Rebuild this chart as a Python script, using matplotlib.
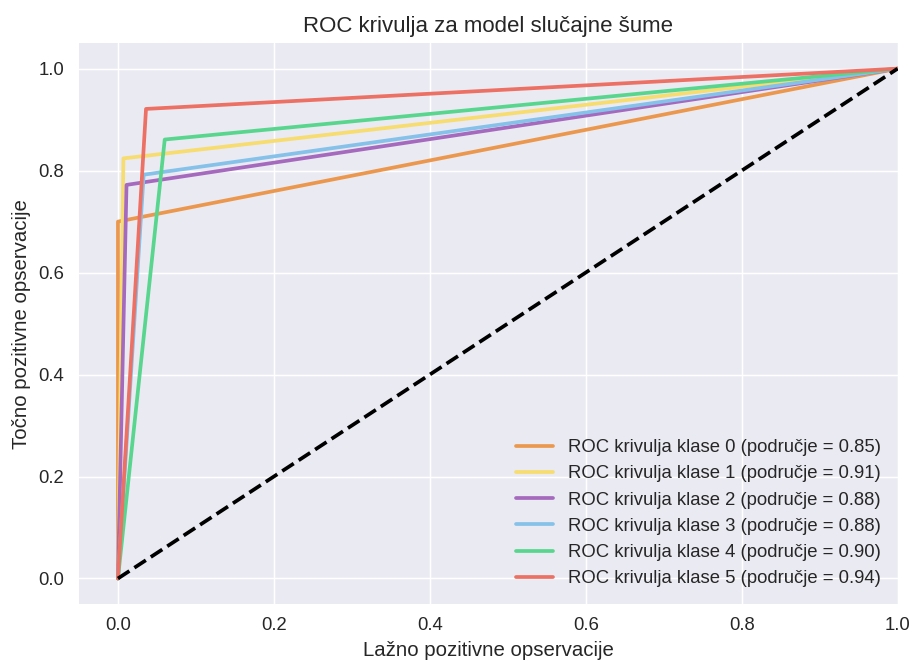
import matplotlib
matplotlib.use("Agg")
import matplotlib.pyplot as plt

plt.style.use("seaborn-v0_8-darkgrid")

classes = [0, 1, 2, 3, 4, 5]
fpr_mid = [0.0, 0.007, 0.011, 0.033, 0.060, 0.036]
tpr_mid = [0.70, 0.824, 0.772, 0.792, 0.861, 0.921]
aucs = [0.85, 0.91, 0.88, 0.88, 0.90, 0.94]
colors = ["#EB984E", "#F7DC6F", "#A569BD", "#85C1E9", "#58D68D", "#EC7063"]

DPI = 400 / 3
fig = plt.figure(figsize=(915 / DPI, 664 / DPI), dpi=DPI)
ax = fig.add_axes([0.0863, 0.0904, 0.8947, 0.8446])

for c, f, t, a, col in zip(classes, fpr_mid, tpr_mid, aucs, colors):
    ax.plot([0.0, f, 1.0], [0.0, t, 1.0], color=col, lw=2,
            label=f"ROC krivulja klase {c} (područje = {a:.2f})")

ax.plot([0, 1], [0, 1], "k--", lw=2)
ax.set_xlim(-0.05, 1.0)
ax.set_ylim(-0.05, 1.05)
ax.set_xlabel("Lažno pozitivne opservacije", fontsize=11, labelpad=4)
ax.set_ylabel("Točno pozitivne opservacije", fontsize=11, labelpad=4)
ax.set_title("ROC krivulja za model slučajne šume")
ax.tick_params(axis="x", pad=7)
ax.tick_params(axis="y", pad=8)
ax.legend(loc="lower right")

fig.savefig("out.png", dpi=DPI)
